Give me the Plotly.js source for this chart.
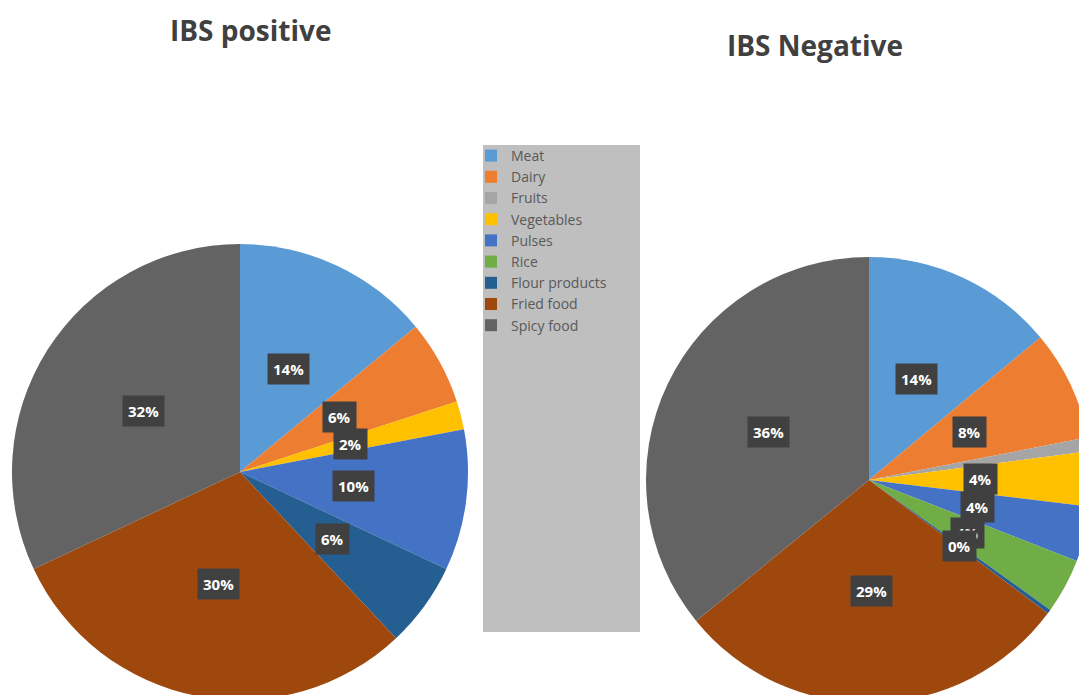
<!DOCTYPE html>
<html>
<head>
<meta charset="utf-8">
<script src="https://cdn.plot.ly/plotly-3.0.1.min.js"></script>
<style>
html,body{margin:0;padding:0;overflow:hidden;background:#fff;width:1079px;height:695px;}
#chart{position:absolute;left:0;top:0;width:1200px;height:800px;}
</style>
</head>
<body>
<div id="chart"></div>
<script>
// ---- data ----
const categories = ["Meat","Dairy","Fruits","Vegetables","Pulses","Rice","Flour products","Fried food","Spicy food"];
const ibsPositive = [14, 6, 0, 2, 10, 0, 6, 30, 32];
const ibsNegative = [14, 8, 1, 4, 4, 4, 0.3, 29, 36];
const negativeLabelShown = [true, true, false, true, true, true, true, true, true];
const colors = ["#5B9BD5","#ED7D31","#A5A5A5","#FFC000","#4472C4","#70AD47","#255E91","#9E480E","#636363"];
const titles = ["IBS positive", "IBS Negative"];

// ---- layout geometry ----
const W = 1200, H = 800;
const domPos = {x:[12/W, 468/W], y:[1-700/H, 1-244/H]};
const domNeg = {x:[646/W, 1092/W], y:[1-703/H, 1-257/H]};

function pieTrace(vals, dom, name){
  return {
    type:'pie', name:name, labels:categories, values:vals, sort:false,
    direction:'clockwise', rotation:0, domain:dom,
    marker:{colors:colors, line:{width:0}},
    textinfo:'none', hoverinfo:'label+percent'
  };
}

function labelAnnotations(vals, dom, shown){
  const total = vals.reduce((a,b)=>a+b,0);
  const cx = (dom.x[0]+dom.x[1])/2, cy = (dom.y[0]+dom.y[1])/2;
  const rpx = Math.min(W*(dom.x[1]-dom.x[0]), H*(dom.y[1]-dom.y[0]))/2;
  const out = [];
  let cum = 0;
  vals.forEach((v,i)=>{
    const mid = (cum + v/2)/total*2*Math.PI;
    cum += v;
    if(v<=0 || (shown && !shown[i])) return;
    out.push({
      xref:'paper', yref:'paper',
      x: cx + 0.5*rpx*Math.sin(mid)/W,
      y: cy + 0.5*rpx*Math.cos(mid)/H,
      text: Math.round(v/total*100) + '%',
      showarrow:false, xanchor:'center', yanchor:'middle',
      bgcolor:'#404040', borderpad:5,
      font:{family:'Open Sans, sans-serif', size:15, color:'#ffffff', weight:'bold'}
    });
  });
  return out;
}

const annotations = [
  {xref:'paper', yref:'paper', x:250/W, y:1-30/H, text:'<b>'+titles[0]+'</b>', showarrow:false,
   xanchor:'center', yanchor:'middle', font:{family:'Open Sans, sans-serif', size:28, color:'#404040'}},
  {xref:'paper', yref:'paper', x:815/W, y:1-45/H, text:'<b>'+titles[1]+'</b>', showarrow:false,
   xanchor:'center', yanchor:'middle', font:{family:'Open Sans, sans-serif', size:28, color:'#404040'}}
].concat(labelAnnotations(ibsPositive, domPos, null))
 .concat(labelAnnotations(ibsNegative, domNeg, negativeLabelShown));

const layout = {
  width:W, height:H, margin:{l:0,r:0,t:0,b:0},
  paper_bgcolor:'#ffffff', plot_bgcolor:'#ffffff',
  showlegend:true,
  legend:{x:471/W, y:1-140/H, xanchor:'left', yanchor:'top', bgcolor:'rgba(0,0,0,0)',
          font:{family:'Open Sans, sans-serif', size:14, color:'#595959'}, traceorder:'normal'},
  shapes:[{type:'rect', xref:'paper', yref:'paper', x0:483/W, x1:640/W, y0:1-632/H, y1:1-145/H,
           fillcolor:'#BFBFBF', line:{width:0}, layer:'below'}],
  annotations:annotations
};

Plotly.newPlot('chart', [pieTrace(ibsPositive, domPos, titles[0]), pieTrace(ibsNegative, domNeg, titles[1])], layout, {staticPlot:true});
</script>
</body>
</html>
